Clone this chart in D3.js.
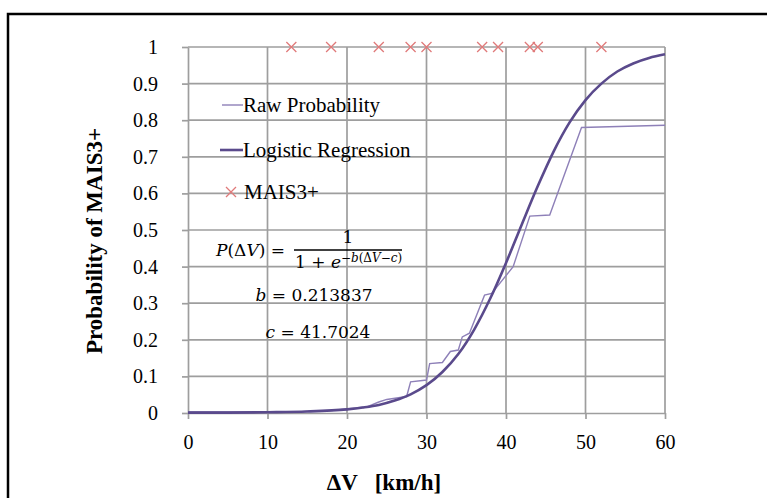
<!DOCTYPE html>
<html>
<head>
<meta charset="utf-8">
<script src="https://cdn.jsdelivr.net/npm/d3@7"></script>
<style>
  body { margin: 0; background: #fff; }
  svg text { font-family: "Liberation Serif", "Times New Roman", serif; }
  .grid line, .grid path { stroke: #9e9e9e; stroke-width: 1.7px; }
  .axisGray path, .axisGray line { stroke: #9e9e9e; stroke-width: 1.7px; }
  .axisGray text { font-size: 20px; fill: #000; }
  .formula text { font-family: "DejaVu Serif", serif; font-size: 17px; }
</style>
</head>
<body>
<div id="chart"></div>
<script>
var rawX = [0, 14, 15, 18, 20, 22.5, 24, 25, 27.5, 28, 30, 30.4, 32, 33, 34, 34.5, 35.4, 37.3, 38.2, 40.9, 43, 45.5, 49.5, 60];
var rawY = [0.003, 0.003, 0.005, 0.007, 0.011, 0.017, 0.030, 0.037, 0.045, 0.085, 0.090, 0.135, 0.138, 0.168, 0.172, 0.208, 0.218, 0.322, 0.327, 0.400, 0.538, 0.541, 0.780, 0.786];

// logistic regression curve
var logX = [0, 5, 10, 15, 20, 22, 24, 26, 28, 30, 32, 34, 36, 38, 40, 42, 44, 46, 48, 50, 52, 54, 56, 58, 60];
var logY = [0.001, 0.001, 0.002, 0.004, 0.010, 0.015, 0.022, 0.034, 0.051, 0.076, 0.112, 0.161, 0.228, 0.312, 0.410, 0.516, 0.620, 0.715, 0.794, 0.855, 0.900, 0.933, 0.955, 0.970, 0.980];

// MAIS3+ cases (all at probability 1)
var maisX = [13, 18, 24, 28, 30, 37, 39, 43, 44, 52];
var maisY = 1;

var xTicks = [0, 10, 20, 30, 40, 50, 60];
var yTicks = [0, 0.1, 0.2, 0.3, 0.4, 0.5, 0.6, 0.7, 0.8, 0.9, 1];

var b = 0.213837, c = 41.7024;

var width = 767, height = 498;
var plot = {left: 188, right: 665, top: 47, bottom: 413};

var svg = d3.select("#chart").append("svg")
    .attr("width", width)
    .attr("height", height);

// frame
svg.append("rect")
    .attr("x", 8).attr("y", 14)
    .attr("width", 900).attr("height", 700)
    .attr("fill", "none")
    .attr("stroke", "#000")
    .attr("stroke-width", 2.5);

var x = d3.scaleLinear().domain([0, 60]).range([plot.left, plot.right]);
var y = d3.scaleLinear().domain([0, 1]).range([plot.bottom, plot.top]);

// grid
svg.append("g")
    .attr("class", "grid")
    .selectAll("line.v")
    .data(xTicks.slice(1))
    .enter().append("line")
    .attr("x1", function(d) { return x(d); })
    .attr("x2", function(d) { return x(d); })
    .attr("y1", y(0)).attr("y2", y(1));

svg.append("g")
    .attr("class", "grid")
    .selectAll("line.h")
    .data(yTicks.slice(1))
    .enter().append("line")
    .attr("x1", x(0)).attr("x2", x(60))
    .attr("y1", function(d) { return y(d); })
    .attr("y2", function(d) { return y(d); });

// axes
svg.append("g")
    .attr("class", "axisGray")
    .attr("transform", "translate(0," + plot.bottom + ")")
    .call(d3.axisBottom(x).tickValues(xTicks).tickSize(6).tickSizeOuter(0).tickPadding(16).tickFormat(d3.format("d")));

svg.append("g")
    .attr("class", "axisGray")
    .attr("transform", "translate(" + plot.left + ",0)")
    .call(d3.axisLeft(y).tickValues(yTicks).tickSize(6).tickSizeOuter(0).tickPadding(24).tickFormat(function(d) { return d === 0 || d === 1 ? d : d3.format(".1f")(d); }));

// lines
var line = d3.line()
    .x(function(d) { return x(d[0]); })
    .y(function(d) { return y(d[1]); });

svg.append("path")
    .datum(rawX.map(function(v, i) { return [v, rawY[i]]; }))
    .attr("fill", "none")
    .attr("stroke", "#8e80b8")
    .attr("stroke-width", 1.4)
    .attr("d", line);

svg.append("path")
    .datum(logX.map(function(v, i) { return [v, logY[i]]; }))
    .attr("fill", "none")
    .attr("stroke", "#5a4a8c")
    .attr("stroke-width", 2.6)
    .attr("d", line.curve(d3.curveMonotoneX));

// MAIS3+ crosses
function crossPath(cx, cy, r) {
    return "M" + (cx - r) + "," + (cy - r) + "L" + (cx + r) + "," + (cy + r) +
           "M" + (cx + r) + "," + (cy - r) + "L" + (cx - r) + "," + (cy + r);
}
svg.append("g")
    .selectAll("path")
    .data(maisX)
    .enter().append("path")
    .attr("d", function(d) { return crossPath(x(d), y(maisY), 5); })
    .attr("stroke", "#e07a7a")
    .attr("stroke-width", 1.3)
    .attr("fill", "none");

// legend
var legend = svg.append("g");
legend.append("line")
    .attr("x1", 222).attr("x2", 243).attr("y1", 105).attr("y2", 105)
    .attr("stroke", "#8e80b8").attr("stroke-width", 1.4);
legend.append("text").attr("x", 243).attr("y", 112)
    .attr("font-size", "21px").text("Raw Probability");
legend.append("line")
    .attr("x1", 220).attr("x2", 243).attr("y1", 150).attr("y2", 150)
    .attr("stroke", "#5a4a8c").attr("stroke-width", 2.6);
legend.append("text").attr("x", 243).attr("y", 157)
    .attr("font-size", "21px").text("Logistic Regression");
legend.append("path")
    .attr("d", crossPath(231, 192, 5))
    .attr("stroke", "#e07a7a").attr("stroke-width", 1.3).attr("fill", "none");
legend.append("text").attr("x", 244).attr("y", 199)
    .attr("font-size", "21px").text("MAIS3+");

// formula
var f = svg.append("g").attr("class", "formula");
var t1 = f.append("text").attr("x", 216).attr("y", 256);
t1.append("tspan").attr("font-style", "italic").text("P");
t1.append("tspan").text("(Δ");
t1.append("tspan").attr("font-style", "italic").text("V");
t1.append("tspan").text(") =");
f.append("line").attr("x1", 294).attr("x2", 402).attr("y1", 250).attr("y2", 250)
    .attr("stroke", "#000").attr("stroke-width", 1.3);
f.append("text").attr("x", 348).attr("y", 243).attr("text-anchor", "middle").text("1");
var t2 = f.append("text").attr("x", 295).attr("y", 268);
t2.append("tspan").text("1 + ");
t2.append("tspan").attr("font-style", "italic").text("e");
var sup = t2.append("tspan").attr("dy", -6).attr("font-size", "12px");
sup.append("tspan").text("−");
sup.append("tspan").attr("font-style", "italic").text("b");
sup.append("tspan").text("(Δ");
sup.append("tspan").attr("font-style", "italic").text("V");
sup.append("tspan").text("−");
sup.append("tspan").attr("font-style", "italic").text("c");
sup.append("tspan").text(")");

var t3 = f.append("text").attr("x", 314).attr("y", 301).attr("text-anchor", "middle");
t3.append("tspan").attr("font-style", "italic").text("b");
t3.append("tspan").text(" = " + b);
var t4 = f.append("text").attr("x", 318).attr("y", 338).attr("text-anchor", "middle");
t4.append("tspan").attr("font-style", "italic").text("c");
t4.append("tspan").text(" = " + c);

// axis titles
svg.append("text")
    .attr("transform", "translate(102,241) rotate(-90)")
    .attr("text-anchor", "middle")
    .attr("font-size", "23px")
    .attr("font-weight", "bold")
    .text("Probability of MAIS3+");

svg.append("text")
    .attr("x", 384).attr("y", 490)
    .attr("text-anchor", "middle")
    .attr("font-size", "23px")
    .attr("font-weight", "bold")
    .style("white-space", "pre")
    .text("ΔV   [km/h]");
</script>
</body>
</html>
